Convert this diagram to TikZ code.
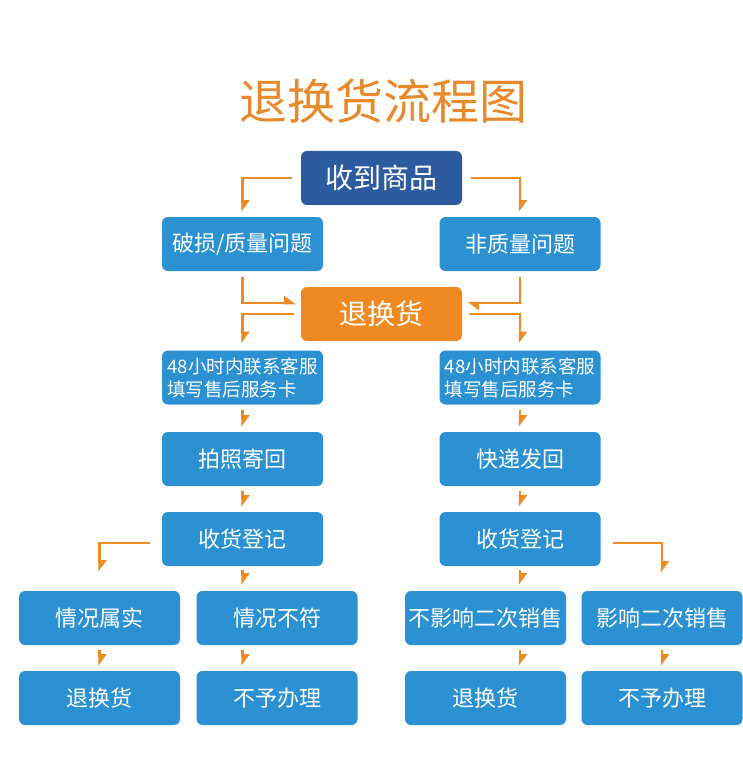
\documentclass[tikz,border=0pt]{standalone}
\usepackage{fontspec}
\setmainfont{Noto Sans CJK SC}
\usetikzlibrary{arrows.meta,calc}
\definecolor{flow}{HTML}{EE8A22}
\definecolor{titleor}{HTML}{E8892B}
\definecolor{deepblue}{HTML}{2D5B9F}
\definecolor{skyblue}{HTML}{2B91D2}
\definecolor{boxor}{HTML}{EF8A23}

\tikzset{
  box/.style={rectangle,rounded corners=6pt,fill=skyblue,text=white,
    minimum width=161pt,minimum height=54pt,inner sep=0pt,
    font=\fontsize{22}{26}\selectfont},
  flowline/.style={draw=flow,line width=2.8pt,
    -{Triangle[harpoon,length=10pt,width=14pt]}},
}

\begin{document}
\begin{tikzpicture}[x=1pt,y=-1pt]
        \useasboundingbox (0,0) rectangle (742,759);

        \node[text=titleor,font=\fontsize{48}{52}\selectfont] (title) at (383,101) {退换货流程图};

        \path
        (381.5,178) node[box,fill=deepblue,font=\fontsize{28}{32}\selectfont](recv) {收到商品}
        (242.5,244) node[box](broken) {破损/质量问题}
        (520,244) node[box](nonq) {非质量问题}
        (381.5,314) node[box,fill=boxor,font=\fontsize{28}{32}\selectfont](swap) {退换货}
        ;

        \path
        (242.5,377.5) node[box,align=left,font=\fontsize{18.5}{23}\selectfont](callL) {48小时内联系客服\\填写售后服务卡}
        (242.5,459) node[box](photo) {拍照寄回}
        (242.5,539) node[box](regL) {收货登记}
        (520,377.5) node[box,align=left,font=\fontsize{18.5}{23}\selectfont](callR) {48小时内联系客服\\填写售后服务卡}
        (520,459) node[box](express) {快递发回}
        (520,539) node[box](regR) {收货登记}
        ;

        \path
        (99.5,618) node[box](true) {情况属实}
        (277,618) node[box](false) {情况不符}
        (485.5,618) node[box](noaff) {不影响二次销售}
        (662,618) node[box](aff) {影响二次销售}
        (99.5,698) node[box](swapA) {退换货}
        (277,698) node[box](rejA) {不予办理}
        (485.5,698) node[box](swapB) {退换货}
        (662,698) node[box](rejB) {不予办理}
        ;

        % top branches
        \draw[flowline] ([xshift=-9pt]recv.west) -| ([yshift=5pt]broken.north);
        \draw[flowline] ([xshift=9pt]recv.east) -| ([yshift=5pt]nonq.north);

        \draw[flowline] ([yshift=-6pt]broken.south) |- ([xshift=-5pt,yshift=11pt]swap.west);
        \draw[flowline] ([yshift=-6pt]nonq.south) |- ([xshift=5pt,yshift=11pt]swap.east);
        \draw[flowline] ([xshift=-7pt]swap.west) -| ([yshift=7pt]callL.north);
        \draw[flowline] ([xshift=7pt]swap.east) -| ([yshift=7pt]callR.north);

        % columns
        \draw[flowline] ([yshift=-5pt]callL.south) -- ([yshift=5pt]photo.north);
        \draw[flowline] ([yshift=-5pt]photo.south) -- ([yshift=5pt]regL.north);
        \draw[flowline] ([yshift=-5pt]callR.south) -- ([yshift=5pt]express.north);
        \draw[flowline] ([yshift=-5pt]express.south) -- ([yshift=5pt]regR.north);

        % results
        \draw[flowline] ([xshift=-12pt,yshift=-4pt]regL.west) -| ([yshift=19pt]true.north);
        \draw[flowline] ([yshift=-4pt]regL.south) -- ($(regL.south |- false.north)+(0,-6)$);
        \draw[flowline] ([yshift=-5pt]true.south) -- ([yshift=5pt]swapA.north);
        \draw[flowline] ($(regL.south |- false.south)+(0,5)$) -- ($(regL.south |- rejA.north)+(0,-5)$);

        \draw[flowline] ([yshift=-4pt]regR.south) -- ($(regR.south |- noaff.north)+(0,-6)$);
        \draw[flowline] ([xshift=12pt,yshift=-4pt]regR.east) -| ([yshift=18pt]aff.north);
        \draw[flowline] ($(regR.south |- noaff.south)+(0,5)$) -- ($(regR.south |- swapB.north)+(0,-5)$);
        \draw[flowline] ([yshift=-5pt]aff.south) -- ([yshift=5pt]rejB.north);
      \end{tikzpicture}
\end{document}
